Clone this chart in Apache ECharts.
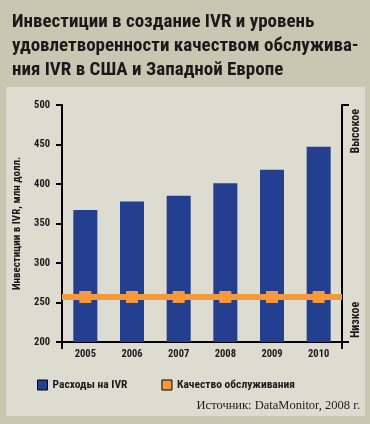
<!DOCTYPE html>
<html><head><meta charset="utf-8">
<script src="https://cdn.jsdelivr.net/npm/echarts@6/dist/echarts.min.js"></script>
<style>html,body{margin:0;padding:0;background:#c7c8b1}#c{width:370px;height:424px}</style>
</head><body><div id="c"></div>
<script>
const titleLines = ['Инвестиции в создание IVR и уровень', 'удовлетворенности качеством обслужива-', 'ния IVR в США и Западной Европе'];
const years = ['2005', '2006', '2007', '2008', '2009', '2010'];
const spending = [367, 378, 385, 401, 418, 447];
const quality = [0.19, 0.19, 0.19, 0.19, 0.19, 0.19];
const qualityLevelLabels = ['Низкое', 'Высокое'];
const seriesNames = ['Расходы на IVR', 'Качество обслуживания'];
const yAxisName = 'Инвестиции в IVR, млн долл.';
const sourceText = 'Источник: DataMonitor, 2008 г.';

const NARROW = '"Roboto Condensed", "DejaVu Sans Condensed", sans-serif';
const BLUE = '#243f8f', ORANGE = '#f7993a', INK = '#1a1a1a';

const chart = echarts.init(document.getElementById('c'), null, {renderer: 'canvas'});
chart.setOption({
  backgroundColor: '#c7c8b1',
  animation: false,
  graphic: [{type: 'rect', shape: {x: 6, y: 87, width: 359, height: 329}, style: {fill: '#dcdcd0'}, z: -10}],
  title: [{
    text: titleLines.join('\n'), left: 7, top: 5,
    textStyle: {fontFamily: NARROW, fontWeight: 'bold', fontSize: 19, lineHeight: 24, color: INK}
  }, {
    text: sourceText, right: 5, bottom: 7,
    textStyle: {fontFamily: '"Liberation Serif", "DejaVu Serif", serif', fontWeight: 'normal', fontSize: 12.5, color: '#222'}
  }],
  legend: {
    left: 32, top: 374, itemWidth: 10, itemHeight: 10, itemGap: 34,
    textStyle: {fontFamily: NARROW, fontWeight: 'bold', fontSize: 11.5, color: INK},
    data: [
      {name: seriesNames[0], icon: 'rect', itemStyle: {color: BLUE, borderColor: '#000', borderWidth: 1}},
      {name: seriesNames[1], icon: 'rect', itemStyle: {color: ORANGE, borderColor: '#000', borderWidth: 1}}
    ]
  },
  grid: {left: 62, right: 28, top: 105, bottom: 82},
  xAxis: {
    type: 'category', data: years, boundaryGap: true,
    axisLine: {lineStyle: {color: '#000', width: 2}},
    axisTick: {show: true, length: 7, lineStyle: {color: '#000', width: 2}, interval: (i) => i === 0},
    axisLabel: {fontFamily: NARROW, fontWeight: 'bold', fontSize: 10.5, color: INK, margin: 7}
  },
  yAxis: [{
    type: 'value', min: 200, max: 500, interval: 50,
    name: yAxisName, nameLocation: 'middle', nameGap: 36, nameRotate: 90,
    nameTextStyle: {fontFamily: NARROW, fontWeight: 'bold', fontSize: 11, color: INK},
    axisLine: {show: true, lineStyle: {color: '#000', width: 2}},
    axisTick: {show: true, length: 6, lineStyle: {color: '#000', width: 2}},
    axisLabel: {fontFamily: NARROW, fontWeight: 'bold', fontSize: 10.5, color: INK, margin: 12},
    splitLine: {show: false}
  }, {
    type: 'value', min: 0, max: 1, interval: 1, position: 'right',
    axisLine: {show: true, lineStyle: {color: '#000', width: 2}},
    axisTick: {show: true, length: 7, lineStyle: {color: '#000', width: 2}},
    axisLabel: {
      fontFamily: NARROW, fontWeight: 'bold', fontSize: 12, color: INK, margin: 8, rotate: 90,
      alignMinLabel: 'left', alignMaxLabel: 'right', padding: [0, 4],
      formatter: (v) => qualityLevelLabels[v]
    },
    splitLine: {show: false}
  }],
  series: [{
    name: seriesNames[0], type: 'bar', data: spending, barWidth: 24,
    itemStyle: {color: BLUE}, z: 2
  }, {
    name: seriesNames[1], type: 'line', yAxisIndex: 1, data: quality,
    symbol: 'rect', symbolSize: 12, showSymbol: true,
    itemStyle: {color: ORANGE}, lineStyle: {color: ORANGE, width: 6}, z: 4,
    markLine: {
      silent: true, symbol: 'none', label: {show: false},
      lineStyle: {color: ORANGE, width: 6, type: 'solid'},
      data: [{yAxis: quality[0]}]
    }
  }]
});
</script></body></html>
